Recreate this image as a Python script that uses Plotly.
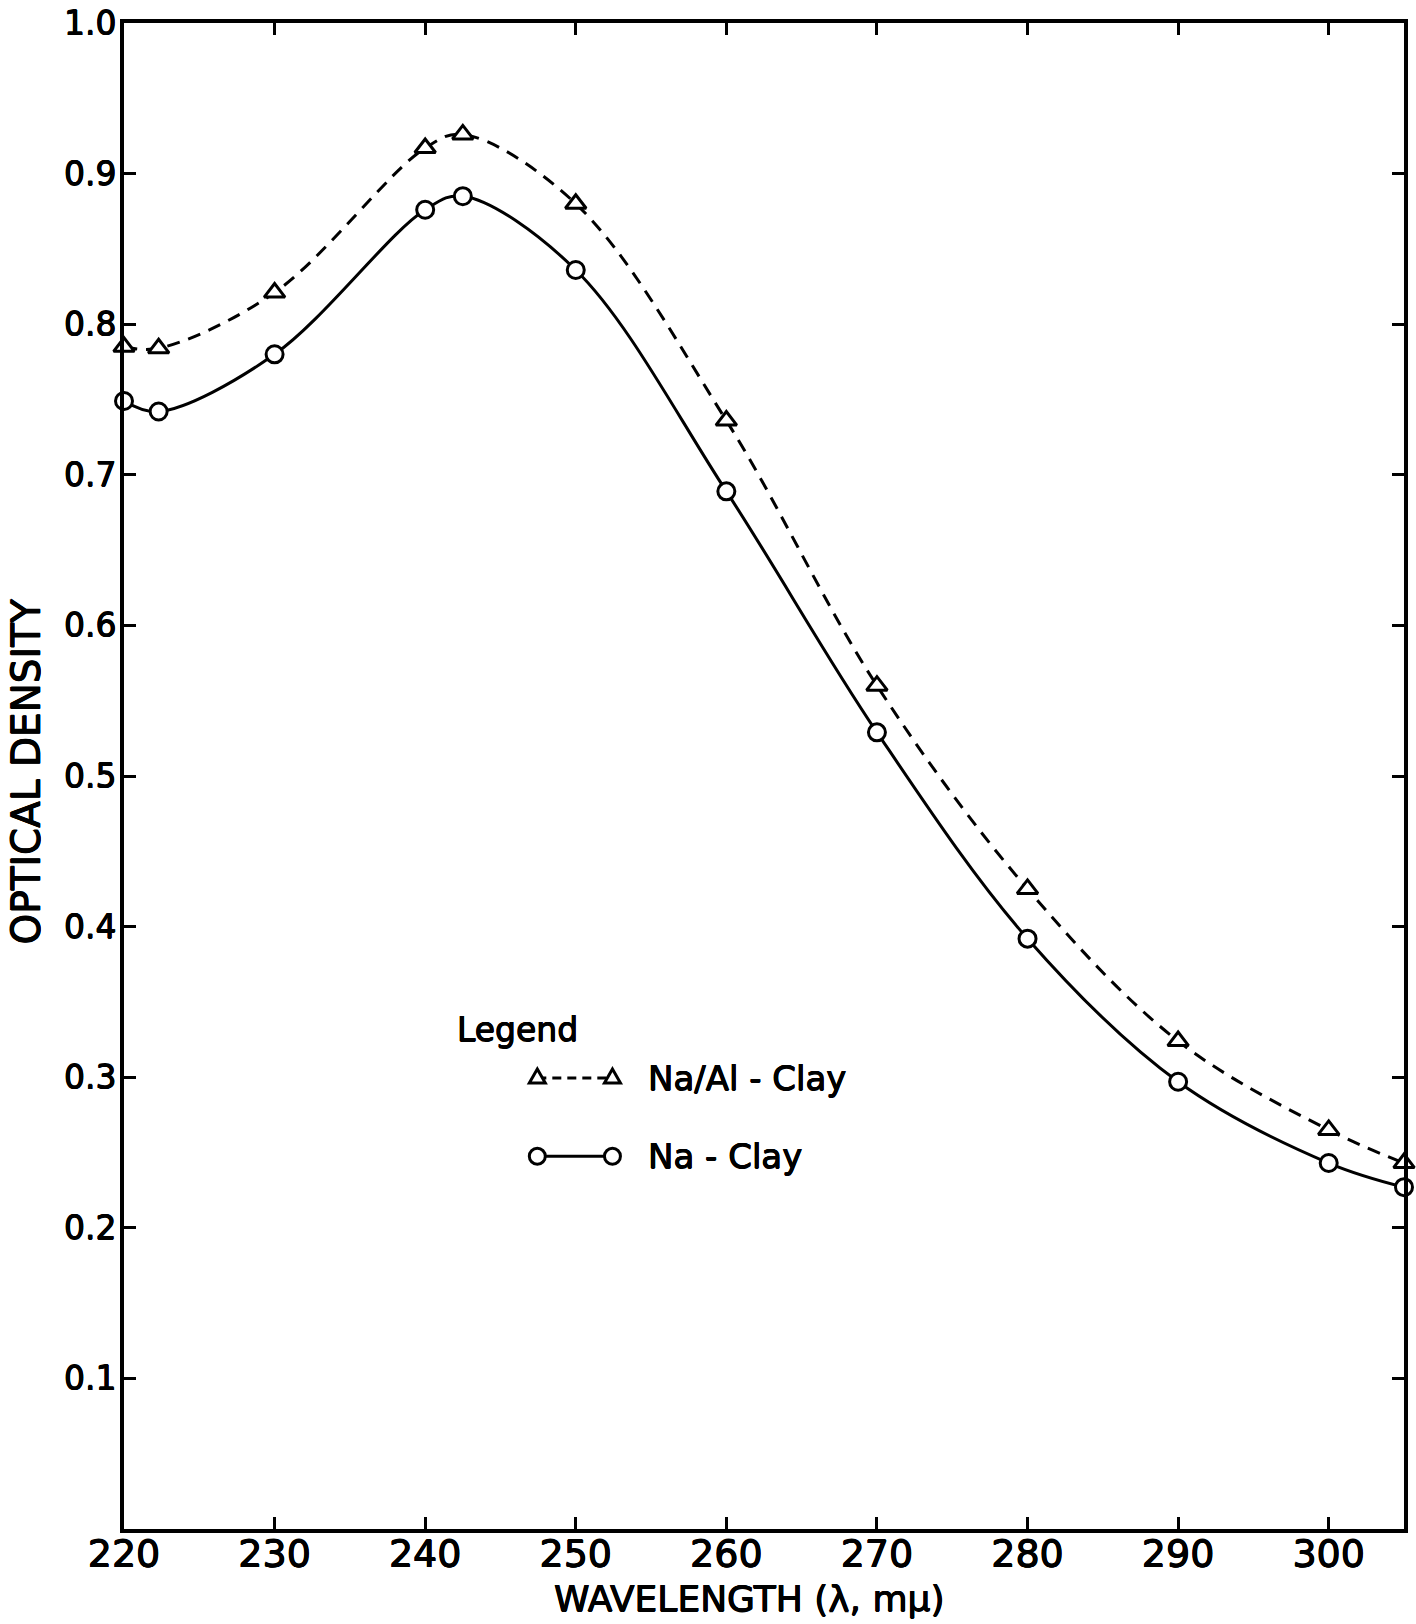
import plotly.graph_objects as go

# Wavelength (mμ) at which each optical density was measured
wavelength = [220, 222.3, 230, 240, 242.5, 250, 260, 270, 280, 290, 300, 305]

# Optical density, Na/Al-clay (triangles, dashed curve)
od_na_al = [0.785, 0.784, 0.821, 0.917, 0.926, 0.880, 0.736, 0.560, 0.425, 0.324, 0.265, 0.243]

# Optical density, Na-clay (circles, solid curve)
od_na = [0.749, 0.742, 0.780, 0.876, 0.885, 0.836, 0.689, 0.529, 0.392, 0.297, 0.243, 0.227]

x_ticks = [220, 230, 240, 250, 260, 270, 280, 290, 300]
y_ticks = [0.1, 0.2, 0.3, 0.4, 0.5, 0.6, 0.7, 0.8, 0.9, 1.0]
y_tick_text = ["0.1", "0.2", "0.3", "0.4", "0.5", "0.6", "0.7", "0.8", "0.9", "1.0"]

FONT = "DejaVu Sans"
INK = "black"
# a thin halo in the ink colour gives the lettering a pen-drawn weight
PEN = "0.5px 0 0 #000, -0.5px 0 0 #000, 0 0.5px 0 #000, 0 -0.5px 0 #000"


def txt(size):
    return dict(family=FONT, size=size, color=INK, shadow=PEN)


fig = go.Figure()

fig.add_trace(go.Scatter(
    x=wavelength, y=od_na_al, mode="lines+markers", name="Na/Al - Clay",
    line=dict(color=INK, width=3, dash="13px,9px", shape="spline", smoothing=1.0),
    marker=dict(symbol="triangle-up", size=18, color="white",
                line=dict(color=INK, width=3)),
    cliponaxis=False,
))

fig.add_trace(go.Scatter(
    x=wavelength, y=od_na, mode="lines+markers", name="Na - Clay",
    line=dict(color=INK, width=3, shape="spline", smoothing=1.0),
    marker=dict(symbol="circle", size=17, color="white",
                line=dict(color=INK, width=3)),
    cliponaxis=False,
))

# Hand-drawn legend key inside the plot area
key_x0, key_x1, text_x = 0.3229, 0.3816, 0.4081
row1_y, row2_y, head_y = 0.2994, 0.2475, 0.3320

shapes = [
    dict(type="line", xref="paper", yref="paper", x0=key_x0, x1=key_x1,
         y0=row1_y, y1=row1_y, line=dict(color=INK, width=3, dash="9px,6px")),
    dict(type="line", xref="paper", yref="paper", x0=key_x0, x1=key_x1,
         y0=row2_y, y1=row2_y, line=dict(color=INK, width=3)),
]
tri = "M-8,-5 L8,-5 L0,9 Z"
for kx in (key_x0, key_x1):
    shapes.append(dict(type="path", xref="paper", yref="paper",
                       xsizemode="pixel", ysizemode="pixel",
                       xanchor=kx, yanchor=row1_y, path=tri,
                       fillcolor="white", line=dict(color=INK, width=3)))
    shapes.append(dict(type="circle", xref="paper", yref="paper",
                       xsizemode="pixel", ysizemode="pixel",
                       xanchor=kx, yanchor=row2_y, x0=-8, x1=8, y0=-8, y1=8,
                       fillcolor="white", line=dict(color=INK, width=3)))

annotations = [
    dict(text="Legend", xref="paper", yref="paper", x=0.2588, y=head_y,
         xanchor="left", yanchor="middle", showarrow=False, font=txt(33)),
    dict(text="Na/Al - Clay", xref="paper", yref="paper", x=text_x, y=row1_y,
         xanchor="left", yanchor="middle", showarrow=False, font=txt(34)),
    dict(text="Na - Clay", xref="paper", yref="paper", x=text_x, y=row2_y,
         xanchor="left", yanchor="middle", showarrow=False, font=txt(34)),
    # axis titles
    dict(text="WAVELENGTH (λ, mμ)", xref="paper", yref="paper", x=0.488, y=-0.0462,
         xanchor="center", yanchor="middle", showarrow=False, font=txt(36)),
    dict(text="OPTICAL DENSITY", xref="paper", yref="paper", x=-0.0765, y=0.503,
         xanchor="center", yanchor="middle", textangle=-90, showarrow=False,
         font=txt(39)),
]

fig.update_layout(
    width=1416, height=1624,
    margin=dict(l=124, r=12, t=23, b=95),
    paper_bgcolor="white", plot_bgcolor="white",
    showlegend=False,
    font=dict(family=FONT, color=INK),
    shapes=shapes,
    annotations=annotations,
)

fig.update_xaxes(
    range=[220, 305], tickvals=x_ticks, ticks="inside", ticklen=12, tickwidth=3,
    tickcolor=INK, showline=True, linewidth=4, linecolor=INK, mirror="ticks",
    showgrid=False, zeroline=False, automargin=False,
    tickfont=txt(38), ticklabelstandoff=-12,
)
fig.update_yaxes(
    range=[0, 1.0], tickvals=y_ticks, ticktext=y_tick_text, ticks="inside",
    ticklen=12, tickwidth=3, tickcolor=INK, showline=True, linewidth=4,
    linecolor=INK, mirror="ticks", showgrid=False, zeroline=False,
    automargin=False, tickfont=txt(33), ticklabelstandoff=-3,
)

fig.write_html("out.html")
